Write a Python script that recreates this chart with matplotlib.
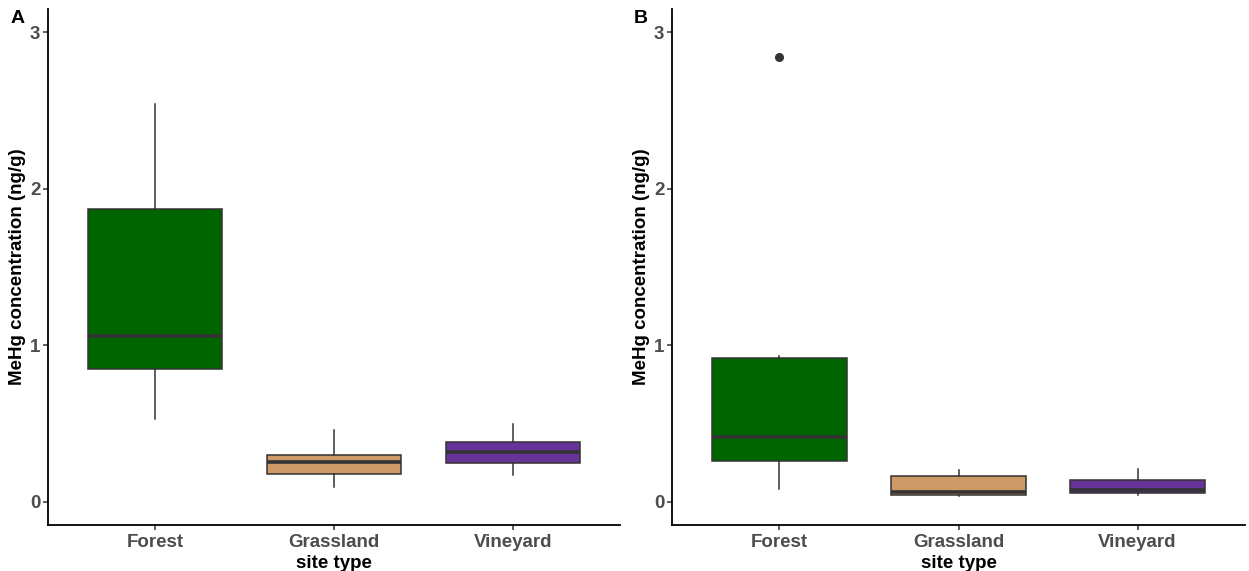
import matplotlib
matplotlib.use("Agg")
import matplotlib.pyplot as plt

plt.rcParams['font.family'] = ['Liberation Sans', 'DejaVu Sans']

site_types = ["Forest", "Grassland", "Vineyard"]
box_colors = ["#006400", "#CD9966", "#673399"]

# Panel A summary statistics (ng/g)
a_whislo = [0.53, 0.09, 0.17]
a_q1 = [0.85, 0.175, 0.247]
a_med = [1.06, 0.253, 0.315]
a_q3 = [1.87, 0.296, 0.383]
a_whishi = [2.54, 0.455, 0.498]
a_fliers = [[], [], []]

# Panel B summary statistics (ng/g)
b_whislo = [0.08, 0.034, 0.04]
b_q1 = [0.26, 0.041, 0.055]
b_med = [0.41, 0.063, 0.075]
b_q3 = [0.92, 0.162, 0.135]
b_whishi = [0.93, 0.204, 0.205]
b_fliers = [[2.84], [], []]

yticks = [0, 1, 2, 3]


def build_stats(whislo, q1, med, q3, whishi, fliers):
    return [dict(whislo=w0, q1=a, med=m, q3=b, whishi=w1, fliers=f, label=lab)
            for w0, a, m, b, w1, f, lab in zip(whislo, q1, med, q3, whishi, fliers, site_types)]


def draw_panel(ax, stats, tag):
    edge = "#333333"
    bp = ax.bxp(stats, positions=[1, 2, 3], widths=0.75, patch_artist=True,
                showcaps=False,
                boxprops=dict(edgecolor=edge, linewidth=1.1),
                whiskerprops=dict(color=edge, linewidth=1.1),
                medianprops=dict(color=edge, linewidth=2.6),
                flierprops=dict(marker='o', markerfacecolor=edge, markeredgecolor=edge,
                                markersize=5.5))
    for patch, c in zip(bp['boxes'], box_colors):
        patch.set_facecolor(c)
    ax.set_xlim(0.4, 3.6)
    ax.set_ylim(-0.15, 3.15)
    ax.set_yticks(yticks)
    ax.set_yticklabels([str(t) for t in yticks])
    ax.set_xticks([1, 2, 3])
    ax.set_xticklabels(site_types)
    for s in ['top', 'right']:
        ax.spines[s].set_visible(False)
    for s in ['left', 'bottom']:
        ax.spines[s].set_linewidth(1.3)
        ax.spines[s].set_color('black')
    ax.tick_params(axis='both', length=3.5, width=1.1, color='#333333',
                   labelcolor='#4D4D4D', labelsize=13.5, pad=2)
    ax.tick_params(axis='x', pad=3)
    for lab in ax.get_xticklabels() + ax.get_yticklabels():
        lab.set_fontweight('bold')
    ax.set_xlabel("site type", fontsize=13.5, fontweight='bold', labelpad=3)
    ax.set_ylabel("MeHg concentration (ng/g)", fontsize=13.5, fontweight='bold', labelpad=3)
    ax.text(-0.066, 0.998, tag, transform=ax.transAxes, fontsize=14, fontweight='bold',
            ha='left', va='top')


fig = plt.figure(figsize=(12.49, 5.71), dpi=100)
ax_a = fig.add_axes([48 / 1249, 46 / 571, 572 / 1249, 516 / 571])
ax_b = fig.add_axes([672 / 1249, 46 / 571, 573 / 1249, 516 / 571])

draw_panel(ax_a, build_stats(a_whislo, a_q1, a_med, a_q3, a_whishi, a_fliers), "A")
draw_panel(ax_b, build_stats(b_whislo, b_q1, b_med, b_q3, b_whishi, b_fliers), "B")

fig.savefig("out.png", dpi=100, facecolor='white')
